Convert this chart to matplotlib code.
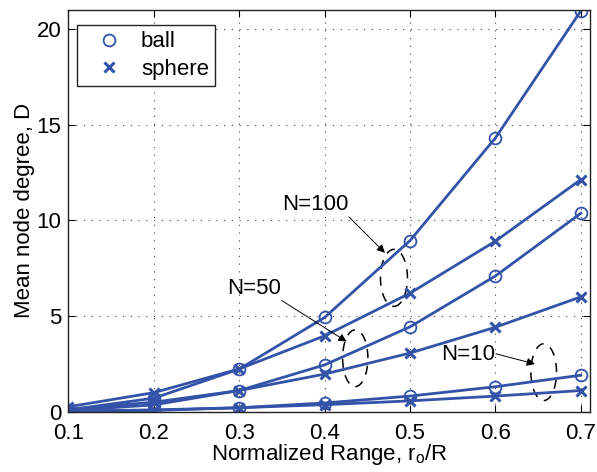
import matplotlib
matplotlib.use("Agg")
import matplotlib.pyplot as plt
from matplotlib.patches import Ellipse
from matplotlib.lines import Line2D

plt.rcParams['font.family'] = ['Liberation Sans', 'DejaVu Sans']
plt.rcParams['mathtext.fontset'] = 'custom'
plt.rcParams['mathtext.rm'] = 'Liberation Sans'
plt.rcParams['mathtext.it'] = 'Liberation Sans'

# Data
r_norm = [0.1, 0.2, 0.3, 0.4, 0.5, 0.6, 0.7]
ball_n100 = [0.09, 0.70, 2.22, 4.92, 8.94, 14.31, 20.95]
sphere_n100 = [0.25, 0.99, 2.23, 3.96, 6.19, 8.91, 12.13]
ball_n50 = [0.05, 0.35, 1.10, 2.44, 4.43, 7.09, 10.37]
sphere_n50 = [0.12, 0.49, 1.10, 1.96, 3.06, 4.41, 6.00]
ball_n10 = [0.01, 0.06, 0.20, 0.45, 0.81, 1.30, 1.90]
sphere_n10 = [0.02, 0.09, 0.20, 0.36, 0.56, 0.81, 1.10]

x_ticks = [0.1, 0.2, 0.3, 0.4, 0.5, 0.6, 0.7]
y_ticks = [0, 5, 10, 15, 20]

color = '#3353A8'
FS = 16

fig = plt.figure(figsize=(5.97, 4.72), dpi=100)
ax = fig.add_axes([0.1144, 0.128, 0.8736, 0.851])

ball_series = [ball_n100, ball_n50, ball_n10]
sphere_series = [sphere_n100, sphere_n50, sphere_n10]
for s in ball_series:
    ax.plot(r_norm, s, '-', color=color, lw=2.0, marker='o', ms=8.5,
            mfc='none', mec=color, mew=1.3)
for s in sphere_series:
    ax.plot(r_norm, s, '-', color=color, lw=2.0, marker='x', ms=6.5,
            mec=color, mew=2.2)

ax.set_xlim(0.1, 0.7105)
ax.set_ylim(0, 21)
ax.set_xticks(x_ticks)
ax.set_yticks(y_ticks)
ax.set_xticklabels([f"{v:.1f}" for v in x_ticks])
ax.set_yticklabels([str(v) for v in y_ticks])
ax.tick_params(direction='in', top=True, right=True, labelsize=FS, length=5,
               width=0.8)
ax.tick_params(axis='x', pad=8)
ax.tick_params(axis='y', pad=5)
ax.grid(True, linestyle=(0, (1, 6)), color='#444444', lw=0.8)
for sp in ax.spines.values():
    sp.set_linewidth(1.0)
    sp.set_color('#222222')

ax.set_xlabel(r"Normalized Range, r$_\mathregular{o}$/R", fontsize=FS, labelpad=-1)
ax.set_ylabel("Mean node degree, D", fontsize=FS, labelpad=1)

# legend
h1 = Line2D([], [], ls='none', marker='o', ms=8.5, mfc='none', mec=color, mew=1.3)
h2 = Line2D([], [], ls='none', marker='x', ms=6.5, mec=color, mew=2.2)
leg = ax.legend([h1, h2], ['ball', 'sphere'], loc='upper left',
                bbox_to_anchor=(0.0167, 0.962), borderaxespad=0, fontsize=FS,
                fancybox=False, framealpha=1, edgecolor='#222222',
                handlelength=2.3, labelspacing=0.3, borderpad=0.28,
                handletextpad=0.3)
leg.get_frame().set_linewidth(1.0)

# annotations
ann_kw = dict(arrowstyle='-|>', color='k', lw=0.7, mutation_scale=12,
              shrinkA=0, shrinkB=0)
ax.text(0.3887, 10.81, 'N=100', fontsize=FS, ha='center', va='center')
ax.annotate('', xy=(0.4706, 8.30), xytext=(0.4285, 10.18), arrowprops=ann_kw)
ax.text(0.3174, 6.45, 'N=50', fontsize=FS, ha='center', va='center')
ax.annotate('', xy=(0.4258, 3.66), xytext=(0.3497, 5.81), arrowprops=ann_kw)
ax.text(0.5678, 2.97, 'N=10', fontsize=FS, ha='center', va='center')
ax.annotate('', xy=(0.6462, 2.49), xytext=(0.6005, 3.02), arrowprops=ann_kw)

for (cx, cy, w, h) in [(0.4812, 6.99, 0.0316, 2.98),
                       (0.4359, 2.79, 0.0296, 2.97),
                       (0.6565, 2.06, 0.0300, 2.97)]:
    ax.add_patch(Ellipse((cx, cy), w, h, fill=False, ec='k', lw=1.1,
                         linestyle=(0, (6, 5))))

fig.savefig('out.png', dpi=100)
